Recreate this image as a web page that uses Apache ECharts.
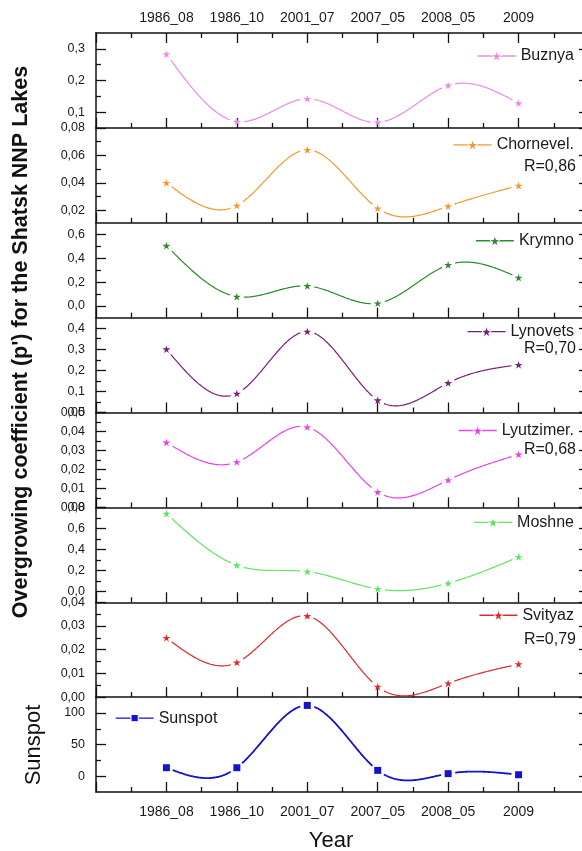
<!DOCTYPE html>
<html><head><meta charset="utf-8">
<script src="https://cdn.jsdelivr.net/npm/echarts@6/dist/echarts.min.js"></script>
<style>html,body{margin:0;padding:0;background:#fff}#c{width:582px;height:851px}</style>
</head><body><div id="c"></div>
<script>
// ---------- data ----------
const categories = ['1986_08', '1986_10', '2001_07', '2007_05', '2008_05', '2009'];
const xPos = [1, 2, 3, 4, 5, 6];

const buznya    = [0.283, 0.070, 0.142, 0.067, 0.184, 0.128];
const chornevel = [0.040, 0.0235, 0.064, 0.0215, 0.023, 0.038];
const krymno    = [0.506, 0.077, 0.167, 0.021, 0.344, 0.237];
const lynovets  = [0.300, 0.090, 0.384, 0.058, 0.140, 0.226];
const lyutzimer = [0.0342, 0.0239, 0.0423, 0.0081, 0.0144, 0.0279];
const moshne    = [0.740, 0.251, 0.191, 0.026, 0.080, 0.330];
const svityaz   = [0.0250, 0.0146, 0.0342, 0.0044, 0.0058, 0.0139];
const sunspot   = [13.4, 13.4, 111.9, 9.2, 4.0, 2.3];

// axis ranges and ticks
const buznyaRange = [0.05, 0.35],   buznyaMajor = [0.1, 0.2, 0.3],             buznyaMinor = [0.15, 0.25];
const chornevelRange = [0.011, 0.08], chornevelMajor = [0.02, 0.04, 0.06, 0.08], chornevelMinor = [0.03, 0.05, 0.07];
const krymnoRange = [-0.1, 0.7],    krymnoMajor = [0, 0.2, 0.4, 0.6],          krymnoMinor = [0.1, 0.3, 0.5];
const lynovetsRange = [0, 0.45],    lynovetsMajor = [0, 0.1, 0.2, 0.3, 0.4],   lynovetsMinor = [0.05, 0.15, 0.25, 0.35];
const lyutzimerRange = [0, 0.05],   lyutzimerMajor = [0, 0.01, 0.02, 0.03, 0.04, 0.05], lyutzimerMinor = [0.005, 0.015, 0.025, 0.035, 0.045];
const moshneRange = [-0.1, 0.8],    moshneMajor = [0, 0.2, 0.4, 0.6, 0.8],     moshneMinor = [0.1, 0.3, 0.5, 0.7];
const svityazRange = [0, 0.04],     svityazMajor = [0, 0.01, 0.02, 0.03, 0.04], svityazMinor = [0.005, 0.015, 0.025, 0.035];
const sunspotRange = [-25, 125],    sunspotMajor = [0, 50, 100],               sunspotMinor = [25, 75];

const seriesNames = ['Buznya', 'Chornevel.', 'Krymno', 'Lynovets', 'Lyutzimer.', 'Moshne', 'Svityaz', 'Sunspot'];
const rLabels = [null, 'R=0,86', null, 'R=0,70', 'R=0,68', null, 'R=0,79', null];

// ---------- layout / style ----------
const FONT = '"Liberation Sans", Arial, sans-serif';
const TXT = '#1a1a1a';
const AX = '#111';
const STAR = 'path://M0,-10L2.245,-3.09L9.51,-3.09L3.633,1.18L5.88,8.09L0,3.82L-5.88,8.09L-3.633,1.18L-9.51,-3.09L-2.245,-3.09Z';
const TOP = 33, BOTTOM = 792, LEFT = 96, RIGHT_X = 589;
const H = (BOTTOM - TOP) / 8;

const panels = [
  {values: buznya,    range: buznyaRange,    major: buznyaMajor,    minor: buznyaMinor,    dec: 1, color: '#E98BE9', legY: 23},
  {values: chornevel, range: chornevelRange, major: chornevelMajor, minor: chornevelMinor, dec: 2, color: '#F2982C', legY: 17, rY: 39},
  {values: krymno,    range: krymnoRange,    major: krymnoMajor,    minor: krymnoMinor,    dec: 1, color: '#2E8B2E', legY: 18},
  {values: lynovets,  range: lynovetsRange,  major: lynovetsMajor,  minor: lynovetsMinor,  dec: 1, color: '#7A1F7A', legY: 14, rY: 31},
  {values: lyutzimer, range: lyutzimerRange, major: lyutzimerMajor, minor: lyutzimerMinor, dec: 2, color: '#E545E5', legY: 18, rY: 37},
  {values: moshne,    range: moshneRange,    major: moshneMajor,    minor: moshneMinor,    dec: 1, color: '#5EE65E', legY: 15},
  {values: svityaz,   range: svityazRange,   major: svityazMajor,   minor: svityazMinor,   dec: 2, color: '#DD2A2A', legY: 13, rY: 37},
  {values: sunspot,   range: sunspotRange,   major: sunspotMajor,   minor: sunspotMinor,   dec: 0, color: '#1414CC', legY: 21, legLeft: 115, symbol: 'rect', lw: 1.8, legH: 9}
];

function fmt(v, dec) { return dec === 0 ? String(Math.round(v)) : v.toFixed(dec).replace('.', ','); }

// natural cubic spline second derivatives (pixel space)
function splineM(pts) {
  const n = pts.length, M = new Array(n).fill(0);
  if (n < 3) return M;
  const a = [], b = [], c = [], d = [];
  for (let k = 1; k < n - 1; k++) {
    const h0 = pts[k][0] - pts[k - 1][0], h1 = pts[k + 1][0] - pts[k][0];
    a.push(h0); b.push(2 * (h0 + h1)); c.push(h1);
    d.push(6 * ((pts[k + 1][1] - pts[k][1]) / h1 - (pts[k][1] - pts[k - 1][1]) / h0));
  }
  const m = b.length;
  for (let k = 1; k < m; k++) { const w = a[k] / b[k - 1]; b[k] -= w * c[k - 1]; d[k] -= w * d[k - 1]; }
  const sol = new Array(m);
  sol[m - 1] = d[m - 1] / b[m - 1];
  for (let k = m - 2; k >= 0; k--) sol[k] = (d[k] - c[k] * sol[k + 1]) / b[k];
  for (let k = 0; k < m; k++) M[k + 1] = sol[k];
  return M;
}

function makeRender(values, color, lw) {
  return function (params, api) {
    const i = params.dataIndex;
    if (i >= values.length - 1) return {type: 'group', children: []};
    const pts = values.map((v, k) => api.coord([xPos[k], v]));
    const M = splineM(pts);
    const p0 = pts[i], p1 = pts[i + 1], h = p1[0] - p0[0];
    const out = [], N = 80, gap = 6.5;
    for (let s = 0; s <= N; s++) {
      const x = p0[0] + h * s / N, A = p1[0] - x, B = x - p0[0];
      const y = M[i] * A * A * A / (6 * h) + M[i + 1] * B * B * B / (6 * h) +
        (p0[1] / h - M[i] * h / 6) * A + (p1[1] / h - M[i + 1] * h / 6) * B;
      if (Math.hypot(x - p0[0], y - p0[1]) < gap || Math.hypot(x - p1[0], y - p1[1]) < gap) continue;
      out.push([x, y]);
    }
    return {type: 'polyline', shape: {points: out}, style: {stroke: color, lineWidth: lw, fill: null}};
  };
}

const axLine = {show: true, onZero: false, lineStyle: {color: AX, width: 1.5}};
const tickStyle = {color: AX, width: 1.3};

const grid = [], xAxis = [], yAxis = [], series = [], legend = [], graphic = [];

panels.forEach((p, i) => {
  const top = TOP + i * H;
  grid.push({left: LEFT, right: 582 - RIGHT_X, top: top, height: H, containLabel: false, outerBoundsMode: 'none'});
  xAxis.push({
    gridIndex: i, type: 'value', min: 0, max: 7, interval: 1, position: 'bottom',
    axisLine: axLine,
    axisTick: {show: true, inside: true, length: 10, lineStyle: tickStyle},
    minorTick: {show: true, splitNumber: 2, length: 5, lineStyle: tickStyle},
    splitLine: {show: false}, minorSplitLine: {show: false},
    axisLabel: {show: i === 7, margin: 13, fontSize: 14, color: TXT, fontFamily: FONT,
      formatter: v => (v >= 1 && v <= 6 ? categories[v - 1] : '')}
  });
  const base = {gridIndex: i, type: 'value', min: p.range[0], max: p.range[1], splitLine: {show: false}};
  yAxis.push(Object.assign({}, base, {
    position: 'left', axisLine: axLine,
    axisTick: {show: true, inside: true, length: 10, customValues: p.major, lineStyle: tickStyle},
    axisLabel: {show: true, customValues: p.major, margin: 11, fontSize: 12.5, color: TXT, fontFamily: FONT,
      formatter: v => fmt(v, p.dec)}
  }));
  yAxis.push(Object.assign({}, base, {
    position: 'left', axisLine: {show: false},
    axisTick: {show: true, inside: true, length: 5, customValues: p.minor, lineStyle: tickStyle},
    axisLabel: {show: false}
  }));
  yAxis.push(Object.assign({}, base, {
    position: 'right', axisLine: axLine,
    axisTick: {show: true, inside: true, length: 10, customValues: p.major, lineStyle: tickStyle},
    axisLabel: {show: false}
  }));
  const data = xPos.map((x, k) => [x, p.values[k]]);
  series.push({
    type: 'custom', xAxisIndex: i, yAxisIndex: 3 * i, clip: true, silent: true,
    data: data, encode: {x: 0, y: 1}, renderItem: makeRender(p.values, p.color, p.lw || 1.2), z: 2
  });
  series.push({
    type: 'line', name: seriesNames[i], xAxisIndex: i, yAxisIndex: 3 * i, data: data,
    symbol: p.symbol || STAR, symbolSize: p.symbol ? 7 : 8, symbolKeepAspect: true, showSymbol: true,
    itemStyle: {color: p.color}, lineStyle: {color: p.color, width: 0, opacity: 0}, silent: true, z: 3
  });
  const lg = {
    data: [seriesNames[i]], top: top + p.legY - 8, padding: 0, itemWidth: 38, itemHeight: p.legH || 14, itemGap: 0,
    selectedMode: false,
    textStyle: {fontSize: 16, color: TXT, fontFamily: FONT, lineHeight: 16},
    lineStyle: {width: 1.3, opacity: 1, color: p.color},
    itemStyle: {borderColor: '#fff', borderWidth: 1}
  };
  if (p.legLeft != null) lg.left = p.legLeft; else lg.right = 8;
  legend.push(lg);
  if (rLabels[i]) {
    graphic.push({type: 'text', x: 576, y: top + p.rY, style: {text: rLabels[i], fontSize: 16, fontFamily: FONT,
      fill: TXT, align: 'right', verticalAlign: 'middle'}});
  }
});

// top axis for first panel
xAxis.push({
  gridIndex: 0, type: 'value', min: 0, max: 7, interval: 1, position: 'top',
  axisLine: axLine,
  axisTick: {show: true, inside: true, length: 10, lineStyle: tickStyle},
  minorTick: {show: true, splitNumber: 2, length: 5, lineStyle: tickStyle},
  splitLine: {show: false}, minorSplitLine: {show: false},
  axisLabel: {show: true, margin: 8, fontSize: 14, color: TXT, fontFamily: FONT,
    formatter: v => (v >= 1 && v <= 6 ? categories[v - 1] : '')}
});

graphic.push({type: 'text', x: 21, y: 342, rotation: Math.PI / 2,
  style: {text: "Overgrowing coefficient (p') for the Shatsk NNP Lakes", fontSize: 21.5, fontWeight: 'bold',
    fontFamily: FONT, fill: '#111', align: 'center', verticalAlign: 'middle'}});
graphic.push({type: 'text', x: 34, y: 745, rotation: Math.PI / 2,
  style: {text: 'Sunspot', fontSize: 22, fontFamily: FONT, fill: '#111', align: 'center', verticalAlign: 'middle'}});
graphic.push({type: 'text', x: 331, y: 841,
  style: {text: 'Year', fontSize: 22, fontFamily: FONT, fill: '#111', align: 'center', verticalAlign: 'middle'}});

const chart = echarts.init(document.getElementById('c'), null, {renderer: 'canvas'});
chart.setOption({
  animation: false, backgroundColor: '#fff',
  grid, xAxis, yAxis, series, legend, graphic
});
</script></body></html>
